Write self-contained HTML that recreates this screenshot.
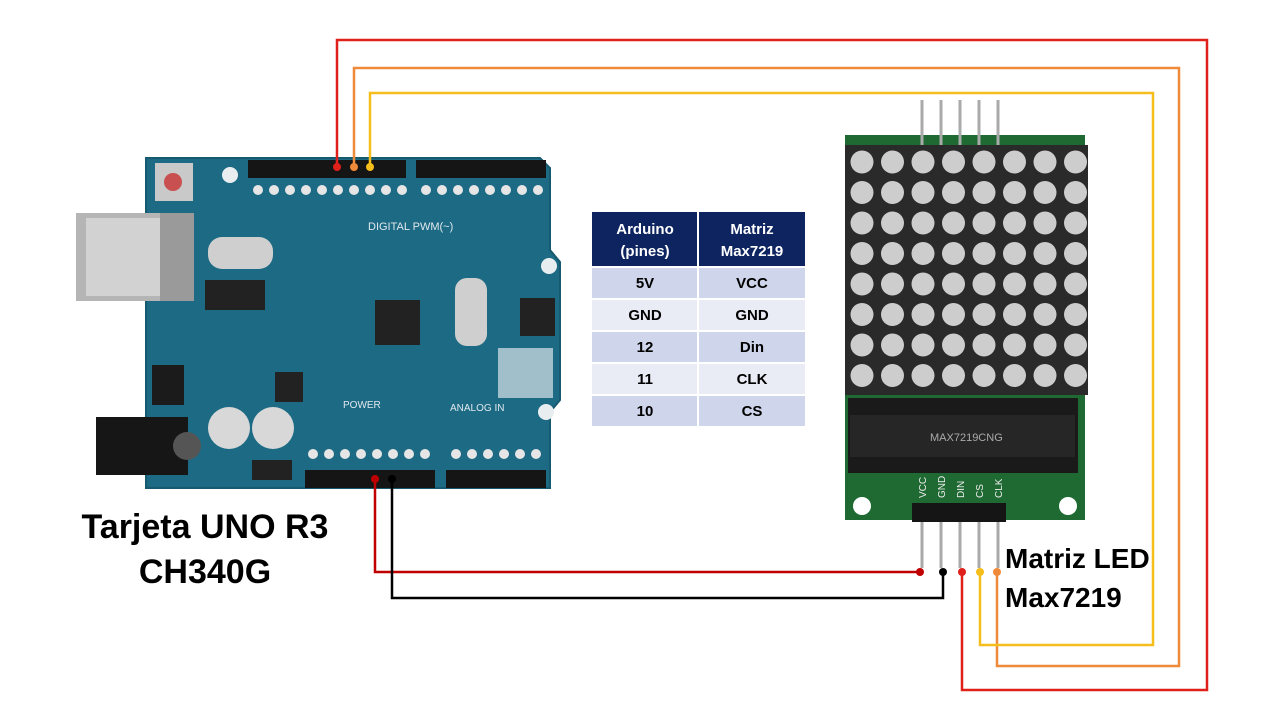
<!DOCTYPE html>
<html><head><meta charset="utf-8"><style>
html,body{margin:0;padding:0;background:#fff;}
svg{display:block;}
text{font-family:"Liberation Sans",sans-serif;}
</style></head><body>
<svg width="1280" height="720" viewBox="0 0 1280 720" xmlns="http://www.w3.org/2000/svg">
<rect width="1280" height="720" fill="#fff"/>
<path d="M146 158 L540 158 L550 168 L550 250 L560 262 L560 400 L550 412 L550 488 L146 488 Z" fill="#1d6a84"/>
<path d="M146 158 L540 158 L550 168 L550 250 L560 262 L560 400 L550 412 L550 488 L146 488 Z" fill="none" stroke="#175a70" stroke-width="2"/>
<rect x="155" y="163" width="38" height="38" fill="#c9c9c9"/><circle cx="173" cy="182" r="9" fill="#c85050"/>
<rect x="76" y="213" width="118" height="88" fill="#b5b5b5"/><rect x="86" y="218" width="100" height="78" fill="#d2d2d2"/><rect x="160" y="213" width="34" height="88" fill="#9a9a9a"/>
<rect x="96" y="417" width="92" height="58" fill="#161616"/><circle cx="187" cy="446" r="14" fill="#555"/>
<rect x="208" y="237" width="65" height="32" rx="14" fill="#cfcfcf"/>
<rect x="205" y="280" width="60" height="30" fill="#222"/>
<rect x="375" y="300" width="45" height="45" fill="#222"/>
<rect x="455" y="278" width="32" height="68" rx="12" fill="#cfcfcf"/>
<rect x="152" y="365" width="32" height="40" fill="#1b1b1b"/>
<rect x="275" y="372" width="28" height="30" fill="#222"/>
<circle cx="229" cy="428" r="21" fill="#d8d8d8"/><circle cx="273" cy="428" r="21" fill="#d8d8d8"/>
<rect x="252" y="460" width="40" height="20" fill="#222"/>
<rect x="520" y="298" width="35" height="38" fill="#222"/>
<rect x="498" y="348" width="55" height="50" fill="#d8e4ea" opacity="0.7"/>
<circle cx="549" cy="266" r="8" fill="#e8eef0"/><circle cx="230" cy="175" r="8" fill="#e8eef0"/><circle cx="546" cy="412" r="8" fill="#e8eef0"/>
<rect x="248" y="160" width="158" height="18" fill="#151515"/>
<rect x="416" y="160" width="130" height="18" fill="#151515"/>
<rect x="305" y="470" width="130" height="18" fill="#151515"/>
<rect x="446" y="470" width="100" height="18" fill="#151515"/>
<g fill="#e6e6e6">
<circle cx="258" cy="190" r="5"/><circle cx="274" cy="190" r="5"/><circle cx="290" cy="190" r="5"/><circle cx="306" cy="190" r="5"/><circle cx="322" cy="190" r="5"/><circle cx="338" cy="190" r="5"/><circle cx="354" cy="190" r="5"/><circle cx="370" cy="190" r="5"/><circle cx="386" cy="190" r="5"/><circle cx="402" cy="190" r="5"/>
<circle cx="426" cy="190" r="5"/><circle cx="442" cy="190" r="5"/><circle cx="458" cy="190" r="5"/><circle cx="474" cy="190" r="5"/><circle cx="490" cy="190" r="5"/><circle cx="506" cy="190" r="5"/><circle cx="522" cy="190" r="5"/><circle cx="538" cy="190" r="5"/>
<circle cx="313" cy="454" r="5"/><circle cx="329" cy="454" r="5"/><circle cx="345" cy="454" r="5"/><circle cx="361" cy="454" r="5"/><circle cx="377" cy="454" r="5"/><circle cx="393" cy="454" r="5"/><circle cx="409" cy="454" r="5"/><circle cx="425" cy="454" r="5"/>
<circle cx="456" cy="454" r="5"/><circle cx="472" cy="454" r="5"/><circle cx="488" cy="454" r="5"/><circle cx="504" cy="454" r="5"/><circle cx="520" cy="454" r="5"/><circle cx="536" cy="454" r="5"/>
</g>
<text x="368" y="230" font-size="11" fill="#e0e8ee" font-family="Liberation Mono">DIGITAL PWM(~)</text>
<text x="343" y="408" font-size="10" fill="#e0e8ee" font-family="Liberation Mono">POWER</text>
<text x="450" y="411" font-size="10" fill="#e0e8ee" font-family="Liberation Mono">ANALOG IN</text>

<rect x="845" y="135" width="240" height="385" fill="#1f6a32"/>
<g stroke="#aaa" stroke-width="3">
<line x1="922" y1="100" x2="922" y2="145"/><line x1="941" y1="100" x2="941" y2="145"/><line x1="960" y1="100" x2="960" y2="145"/><line x1="979" y1="100" x2="979" y2="145"/><line x1="998" y1="100" x2="998" y2="145"/>
<line x1="922" y1="520" x2="922" y2="568"/><line x1="941" y1="520" x2="941" y2="568"/><line x1="960" y1="520" x2="960" y2="568"/><line x1="979" y1="520" x2="979" y2="568"/><line x1="998" y1="520" x2="998" y2="568"/>
</g>
<rect x="845" y="145" width="243" height="250" fill="#2a2a2a"/>
<g fill="#cdcdcd" id="leds"></g>
<rect x="848" y="398" width="230" height="75" fill="#1a1a1a"/>
<rect x="850" y="415" width="225" height="42" fill="#262626"/>
<text x="930" y="441" font-size="11" fill="#aaa" font-family="Liberation Mono">MAX7219CNG</text>
<circle cx="862" cy="506" r="9" fill="#fff"/><circle cx="1068" cy="506" r="9" fill="#fff"/>
<rect x="912" y="503" width="94" height="19" fill="#151515"/>
<text font-size="10" fill="#eee" font-family="Liberation Mono" transform="translate(926,498) rotate(-90)">VCC</text>
<text font-size="10" fill="#eee" font-family="Liberation Mono" transform="translate(945,498) rotate(-90)">GND</text>
<text font-size="10" fill="#eee" font-family="Liberation Mono" transform="translate(964,498) rotate(-90)">DIN</text>
<text font-size="10" fill="#eee" font-family="Liberation Mono" transform="translate(983,498) rotate(-90)">CS</text>
<text font-size="10" fill="#eee" font-family="Liberation Mono" transform="translate(1002,498) rotate(-90)">CLK</text>

<g fill="none" stroke-width="2.5">
<polyline points="337,167 337,40 1207,40 1207,690 962,690 962,572" stroke="#e0201a"/>
<polyline points="354,167 354,68 1179,68 1179,666 997,666 997,572" stroke="#ef8a3a"/>
<polyline points="370,167 370,93 1153,93 1153,645 980,645 980,572" stroke="#f6be1a"/>
<polyline points="375,480 375,572 920,572" stroke="#c00000"/>
<polyline points="392,480 392,598 943,598 943,572" stroke="#000"/>
</g>
<circle cx="337" cy="167" r="4" fill="#e0201a"/><circle cx="354" cy="167" r="4" fill="#ef8a3a"/><circle cx="370" cy="167" r="4" fill="#f6be1a"/>
<circle cx="375" cy="479" r="4" fill="#c00000"/><circle cx="392" cy="479" r="4" fill="#000"/>
<circle cx="920" cy="572" r="4" fill="#c00000"/><circle cx="943" cy="572" r="4" fill="#000"/><circle cx="962" cy="572" r="4" fill="#e0201a"/><circle cx="980" cy="572" r="4" fill="#f6be1a"/><circle cx="997" cy="572" r="4" fill="#ef8a3a"/>

<rect x="592" y="212" width="213" height="54" fill="#0d2460"/>
<rect x="592" y="268" width="213" height="30" fill="#cfd5ea"/>
<rect x="592" y="300" width="213" height="30" fill="#e9ebf5"/>
<rect x="592" y="332" width="213" height="30" fill="#cfd5ea"/>
<rect x="592" y="364" width="213" height="30" fill="#e9ebf5"/>
<rect x="592" y="396" width="213" height="30" fill="#cfd5ea"/>
<line x1="698" y1="212" x2="698" y2="426" stroke="#fff" stroke-width="2"/>
<g font-size="15" font-weight="bold" text-anchor="middle">
<text x="645" y="234" fill="#fff">Arduino</text><text x="645" y="256" fill="#fff">(pines)</text>
<text x="752" y="234" fill="#fff">Matriz</text><text x="752" y="256" fill="#fff">Max7219</text>
<text x="645" y="288">5V</text><text x="752" y="288">VCC</text>
<text x="645" y="320">GND</text><text x="752" y="320">GND</text>
<text x="645" y="352">12</text><text x="752" y="352">Din</text>
<text x="645" y="384">11</text><text x="752" y="384">CLK</text>
<text x="645" y="416">10</text><text x="752" y="416">CS</text>
</g>
<g font-size="34" font-weight="bold" text-anchor="middle" fill="#000">
<text x="205" y="538">Tarjeta UNO R3</text><text x="205" y="583">CH340G</text>
</g>
<g font-size="28" font-weight="bold" fill="#000">
<text x="1005" y="568">Matriz LED</text><text x="1005" y="607">Max7219</text>
</g>
</svg>
<script>
var g=document.getElementById('leds'),s='';
for(var r=0;r<8;r++)for(var c=0;c<8;c++){s+='<circle cx="'+(862+c*30.5)+'" cy="'+(162+r*30.5)+'" r="11.5"/>';}
g.innerHTML=s;
</script>
</body></html>
